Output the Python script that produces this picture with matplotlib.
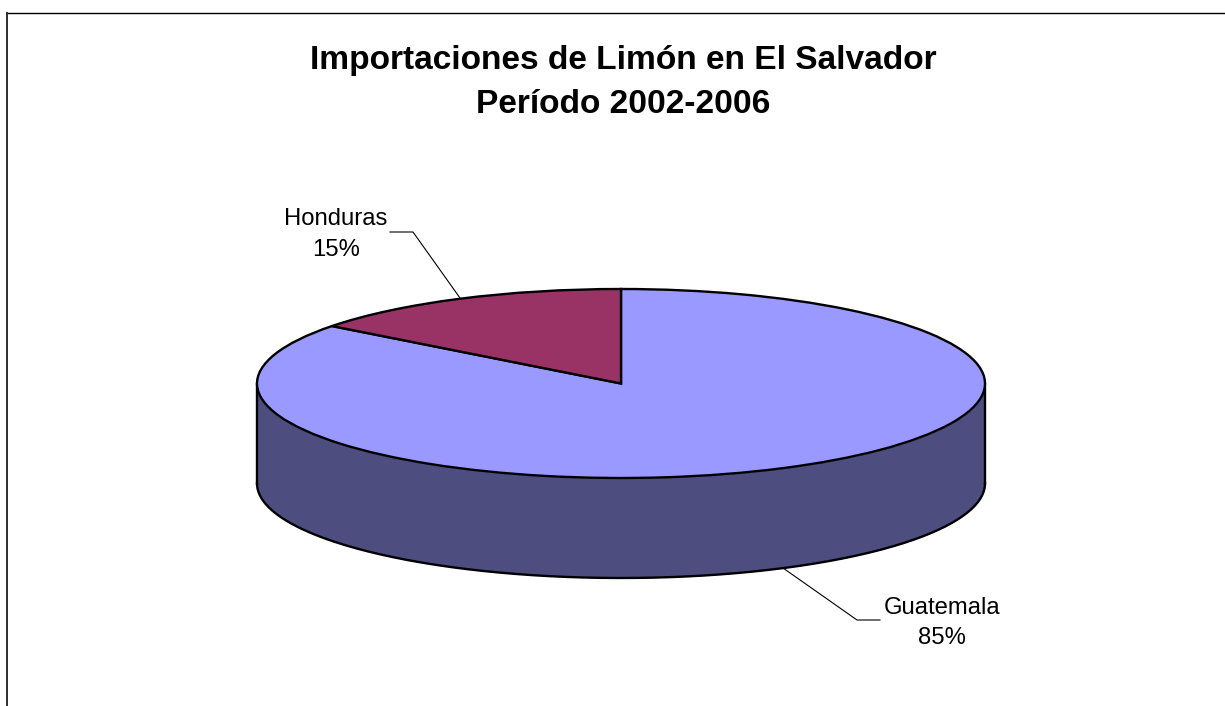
import matplotlib
matplotlib.use('Agg')
import matplotlib.pyplot as plt
import numpy as np

# Data
countries = ['Guatemala', 'Honduras']
shares = [85.4, 14.6]
share_labels = ['85%', '15%']
top_colors = ['#9999FF', '#993366']
side_color = '#4D4D80'

W, H = 1225, 706
cx, cy = 621, 383.5  # pie centre in pixels
rx, ry = 364, 94.5   # ellipse radii
depth = 100 / ry

plt.rcParams['font.family'] = ['Liberation Sans', 'DejaVu Sans']

fig = plt.figure(figsize=(W / 100, H / 100), dpi=100)
ax = fig.add_axes([0, 0, 1, 1])


def px(x, y):
    # picture pixels to data units of the squashed pie
    return (x - cx) / rx, (cy - y) / ry


# Side wall below the front half of the top face
theta = np.linspace(np.pi, 2 * np.pi, 200)
ax.fill_between(np.cos(theta), np.sin(theta) - depth, np.sin(theta), color=side_color, lw=0, zorder=1)
ax.plot(np.cos(theta), np.sin(theta) - depth, color='black', lw=1.7, zorder=2)
ax.plot([-1, -1], [0, -depth], color='black', lw=1.7, zorder=2)
ax.plot([1, 1], [0, -depth], color='black', lw=1.7, zorder=2)

# Top face
ax.pie(shares, colors=top_colors, startangle=90, counterclock=False,
       wedgeprops=dict(edgecolor='black', linewidth=1.7, zorder=3))

ax.set_aspect('auto')
ax.set_xlim(px(0, 0)[0], px(W, 0)[0])
ax.set_ylim(px(0, H)[1], px(0, 0)[1])
ax.axis('off')

# Title
ax.text(*px(623.5, 82.5), 'Importaciones de Limón en El Salvador\nPeríodo 2002-2006',
        ha='center', va='center', fontsize=24.1, fontweight='bold', linespacing=1.54)

# Labels and leader lines
label_pos = [(942, 623), (336, 234.5)]
leaders = [[(783, 568), (857, 620), (880, 620)], [(460, 298), (413, 232), (390, 232)]]
for name, share, pos, line in zip(countries, share_labels, label_pos, leaders):
    ax.text(*px(*pos), f'{name}\n{share}', ha='center', va='center', fontsize=17.2, linespacing=1.49)
    pts = [px(*p) for p in line]
    ax.plot([p[0] for p in pts], [p[1] for p in pts], color='black', lw=0.8, zorder=5)

# Chart border: only top and left show in the crop
ax.plot([px(7, 0)[0], px(W, 0)[0]], [px(0, 12.5)[1], px(0, 12.5)[1]], color='black', lw=1.0)
ax.plot([px(7, 0)[0], px(7, 0)[0]], [px(0, H)[1], px(0, 12.5)[1]], color='#333333', lw=1.44)

plt.savefig('out.png', dpi=100)
